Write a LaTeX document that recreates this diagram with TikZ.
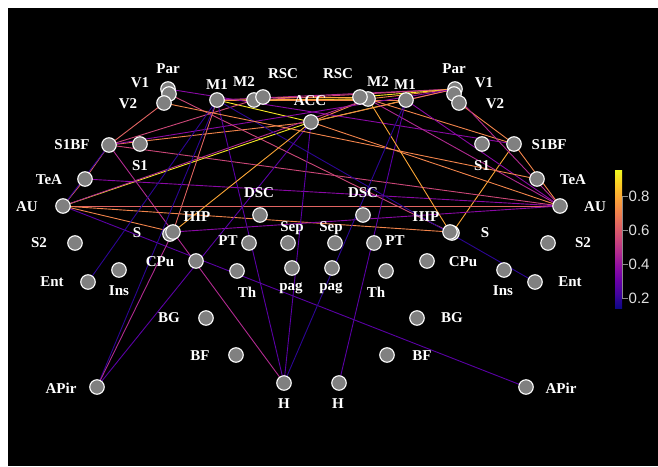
\documentclass[tikz,border=0pt]{standalone}
\usepackage{fontspec}
\setmainfont{Liberation Serif}
\newfontfamily\tickfont{Liberation Sans}
\pgfdeclarelayer{panel}
\pgfdeclarelayer{edges}
\pgfsetlayers{panel,edges,main}
% plasma colour map
\definecolor{pl0}{HTML}{0D0887}
\definecolor{pl1}{HTML}{41049D}
\definecolor{pl2}{HTML}{6A00A8}
\definecolor{pl3}{HTML}{8F0DA4}
\definecolor{pl4}{HTML}{B12A90}
\definecolor{pl5}{HTML}{CC4778}
\definecolor{pl6}{HTML}{E16462}
\definecolor{pl7}{HTML}{F2844B}
\definecolor{pl8}{HTML}{FCA636}
\definecolor{pl9}{HTML}{FCCE25}
\definecolor{pl10}{HTML}{F0F921}
\pgfdeclareverticalshading{plasmabar}{100bp}{color(0bp)=(pl0); color(25bp)=(pl0); color(30bp)=(pl1); color(35bp)=(pl2); color(40bp)=(pl3); color(45bp)=(pl4); color(50bp)=(pl5); color(55bp)=(pl6); color(60bp)=(pl7); color(65bp)=(pl8); color(70bp)=(pl9); color(75bp)=(pl10); color(100bp)=(pl10)}
% edge colours by weight
\definecolor{eblue}{HTML}{2C0594}
\definecolor{eviolet}{HTML}{5A01A5}
\definecolor{epurple}{HTML}{8A09A5}
\definecolor{emag}{HTML}{B12A90}
\definecolor{epink}{HTML}{CC4778}
\definecolor{esalmon}{HTML}{E16462}
\definecolor{eorange}{HTML}{F2844B}
\definecolor{egold}{HTML}{FCA636}
\definecolor{eyellow}{HTML}{F5E826}
\begin{document}
\begin{tikzpicture}[x=1pt,y=-1pt,
  region/.style={circle,fill=gray,draw=white,line width=1.1pt,minimum size=14.5pt,inner sep=0pt},
  tag/.style={text=white,font=\fontsize{15}{15}\selectfont\bfseries,inner sep=0pt},
  link/.style={line width=0.9pt},
  ticklab/.style={text=black!12,font=\tickfont\fontsize{15}{15}\selectfont,anchor=west,inner sep=0pt}]
\useasboundingbox (0,0) rectangle (658,466);
\begin{pgfonlayer}{panel}
  \fill[white] (0,0) rectangle (658,466);
  \fill[black] (8,8) rectangle (658,466);
\end{pgfonlayer}

% ---- regions, left hemisphere ----
\node[region] (ParL) at (168,89) {};
\node[region] (V1L) at (169,94) {};
\node[region] (V2L) at (164,103) {};
\node[region] (M1L) at (217,100) {};
\node[region] (M2L) at (254,100) {};
\node[region] (RSCL) at (263,97) {};
\node[region] (S1BFL) at (109,145) {};
\node[region] (S1L) at (140,144) {};
\node[region] (TeAL) at (85,179) {};
\node[region] (AUL) at (63,206) {};
\node[region] (DSCL) at (260,215) {};
\node[region] (SL) at (170,234) {};
\node[region] (HIPL) at (173,232) {};
\node[region] (SepL) at (288,243) {};
\node[region] (PTL) at (249,243) {};
\node[region] (S2L) at (75,243) {};
\node[region] (CPuL) at (196,261) {};
\node[region] (EntL) at (88,282) {};
\node[region] (InsL) at (119,270) {};
\node[region] (ThL) at (237,271) {};
\node[region] (pagL) at (292,268) {};
\node[region] (BGL) at (206,318) {};
\node[region] (BFL) at (236,355) {};
\node[region] (APirL) at (97,387) {};
\node[region] (HL) at (284,383) {};
% ---- midline ----
\node[region] (ACC) at (311,122) {};
% ---- regions, right hemisphere ----
\node[region] (ParR) at (455,89) {};
\node[region] (V1R) at (454,94) {};
\node[region] (V2R) at (459,103) {};
\node[region] (M1R) at (406,100) {};
\node[region] (M2R) at (368,99) {};
\node[region] (RSCR) at (360,97) {};
\node[region] (S1BFR) at (514,144) {};
\node[region] (S1R) at (482,144) {};
\node[region] (TeAR) at (537,179) {};
\node[region] (AUR) at (560,206) {};
\node[region] (DSCR) at (363,215) {};
\node[region] (SR) at (452,233) {};
\node[region] (HIPR) at (450,232) {};
\node[region] (SepR) at (335,243) {};
\node[region] (PTR) at (374,243) {};
\node[region] (S2R) at (548,243) {};
\node[region] (CPuR) at (427,261) {};
\node[region] (EntR) at (535,282) {};
\node[region] (InsR) at (504,270) {};
\node[region] (ThR) at (386,271) {};
\node[region] (pagR) at (332,268) {};
\node[region] (BGR) at (417,318) {};
\node[region] (BFR) at (387,355) {};
\node[region] (APirR) at (526,387) {};
\node[region] (HR) at (339,383) {};

% ---- labels ----
\node[tag] (tParL) at (168,69) {Par};
\node[tag] (tV1L) at (140,83) {V1};
\node[tag] (tV2L) at (128,104) {V2};
\node[tag] (tM1L) at (217,85) {M1};
\node[tag] (tM2L) at (244,82) {M2};
\node[tag] (tRSCL) at (283,74) {RSC};
\node[tag] (tACC) at (310,101) {ACC};
\node[tag] (tRSCR) at (338,74) {RSC};
\node[tag] (tM2R) at (378,82) {M2};
\node[tag] (tM1R) at (405,85) {M1};
\node[tag] (tParR) at (454,69) {Par};
\node[tag] (tV1R) at (484,83) {V1};
\node[tag] (tV2R) at (495,104) {V2};
\node[tag] (tS1BFL) at (72,145) {S1BF};
\node[tag] (tS1L) at (140,166) {S1};
\node[tag] (tS1R) at (482,166) {S1};
\node[tag] (tS1BFR) at (549,145) {S1BF};
\node[tag] (tTeAL) at (49,180) {TeA};
\node[tag] (tTeAR) at (573,180) {TeA};
\node[tag] (tAUL) at (27,207) {AU};
\node[tag] (tAUR) at (595,207) {AU};
\node[tag] (tDSCL) at (259,193) {DSC};
\node[tag] (tDSCR) at (363,193) {DSC};
\node[tag] (tHIPL) at (197,217) {HIP};
\node[tag] (tHIPR) at (426,217) {HIP};
\node[tag] (tSL) at (137,233) {S};
\node[tag] (tSR) at (485,233) {S};
\node[tag] (tSepL) at (292,228) {Sep};
\node[tag] (tSepR) at (331,228) {Sep};
\node[tag] (tPTL) at (228,241) {PT};
\node[tag] (tPTR) at (395,241) {PT};
\node[tag] (tS2L) at (39,243) {S2};
\node[tag] (tS2R) at (583,243) {S2};
\node[tag] (tCPuL) at (160,262) {CPu};
\node[tag] (tCPuR) at (463,262) {CPu};
\node[tag] (tEntL) at (52,282) {Ent};
\node[tag] (tEntR) at (570,282) {Ent};
\node[tag] (tInsL) at (119,291) {Ins};
\node[tag] (tInsR) at (503,291) {Ins};
\node[tag] (tThL) at (247,292) {Th};
\node[tag] (tThR) at (376,292) {Th};
\node[tag] (tpagL) at (291,288) {pag};
\node[tag] (tpagR) at (331,288) {pag};
\node[tag] (tBGL) at (169,318) {BG};
\node[tag] (tBGR) at (452,318) {BG};
\node[tag] (tBFL) at (200,356) {BF};
\node[tag] (tBFR) at (422,356) {BF};
\node[tag] (tAPirL) at (61,388) {APir};
\node[tag] (tAPirR) at (561,388) {APir};
\node[tag] (tHL) at (284,404) {H};
\node[tag] (tHR) at (338,404) {H};

% ---- connections ----
\begin{pgfonlayer}{edges}
\foreach \a/\b/\c in {
  M1L/M1R/eorange, M2L/M2R/eyellow, RSCL/RSCR/egold, M1L/ACC/eyellow,
  M1L/M2R/egold, ACC/M1R/eyellow, ACC/M2R/eorange, ParL/S1BFR/epurple,
  ParR/M1L/emag, ParR/M2L/epink, ParR/RSCR/eyellow, ParR/M2R/eorange,
  ParR/M1R/epurple, ParR/ACC/eorange, ACC/S1BFL/eorange, ParR/S1BFL/epurple,
  S1BFL/M2L/epink, S1BFR/M2R/eorange, V2L/S1BFL/esalmon,
  V2R/S1BFR/eorange, S1BFL/TeAL/esalmon, TeAL/AUL/esalmon, S1BFL/AUL/eblue,
  S1BFR/AUR/eorange, S1BFL/HL/emag, S1BFR/SR/egold, V1L/SR/epink,
  AUL/AUR/esalmon, AUL/HIPL/eorange, AUL/HIPR/eorange, AUL/APirR/eviolet,
  AUL/ACC/eyellow, AUL/M2R/emag, ACC/AUR/eorange, M2R/AUR/emag,
  M1R/AUR/epurple, V1R/AUR/emag, S1BFL/AUR/epink, TeAL/AUR/epurple,
  HIPL/AUR/epurple, M1L/HIPL/esalmon, M1L/HL/eviolet, M1L/APirL/eblue,
  M1L/EntL/eblue, M1L/EntR/eblue, APirL/HIPL/emag, APirL/ACC/eviolet,
  ACC/HL/eviolet, M1R/HR/eviolet, M2R/HIPR/egold, HIPL/ACC/egold,
  V2L/TeAR/eorange, M1R/HL/eblue}
  \draw[link,\c] (\a.center) -- (\b.center);
\end{pgfonlayer}

% ---- colour bar ----
\shade[shading=plasmabar] (615,170) rectangle (622,308);
\draw[black!45,line width=0.9pt] (622,196) -- (622,298);
\foreach \v/\y in {0.8/196,0.6/230,0.4/264,0.2/298}{
  \draw[black!45,line width=0.9pt] (622,\y) -- (628,\y);
  \node[ticklab] at (628.5,\y) {\v};
}
\end{tikzpicture}
\end{document}
